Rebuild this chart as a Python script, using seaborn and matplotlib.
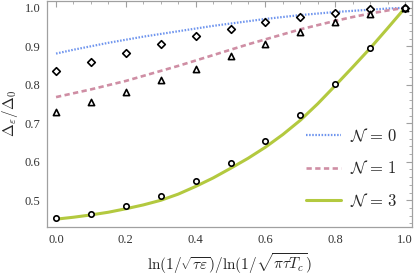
import numpy as np
import pandas as pd
import matplotlib
matplotlib.use("Agg")
import matplotlib.pyplot as plt
import seaborn as sns
from matplotlib.ticker import MultipleLocator

# ---- data ----
x_line = [0.0, 0.05, 0.1, 0.15, 0.2, 0.25, 0.3, 0.35, 0.4, 0.45, 0.5,
          0.55, 0.6, 0.65, 0.7, 0.75, 0.8, 0.85, 0.9, 0.95, 1.0]
line_n0 = [0.881, 0.891, 0.900, 0.909, 0.917, 0.925, 0.932, 0.939, 0.946, 0.953, 0.959,
           0.965, 0.971, 0.976, 0.981, 0.985, 0.989, 0.992, 0.995, 0.998, 1.0]
line_n1 = [0.768, 0.778, 0.788, 0.799, 0.810, 0.823, 0.836, 0.849, 0.863, 0.877, 0.891,
           0.905, 0.918, 0.931, 0.944, 0.955, 0.966, 0.976, 0.985, 0.993, 1.0]
line_n3 = [0.451, 0.456, 0.462, 0.469, 0.478, 0.488, 0.500, 0.516, 0.536, 0.558, 0.583,
           0.609, 0.638, 0.671, 0.708, 0.751, 0.798, 0.846, 0.895, 0.947, 1.0]

x_pts = [0.0, 0.1, 0.2, 0.3, 0.4, 0.5, 0.6, 0.7, 0.8, 0.9, 1.0]
pts_diamond = [0.835, 0.859, 0.883, 0.906, 0.926, 0.944, 0.962, 0.976, 0.987, 0.996, 1.0]
pts_triangle = [0.729, 0.755, 0.780, 0.812, 0.842, 0.875, 0.907, 0.937, 0.963, 0.985, 1.0]
pts_circle = [0.454, 0.465, 0.484, 0.512, 0.549, 0.596, 0.654, 0.721, 0.801, 0.896, 1.0]

labels = [r"$\mathcal{N}\,=\,0$", r"$\mathcal{N}\,=\,1$", r"$\mathcal{N}\,=\,3$"]
xticks = [0.0, 0.2, 0.4, 0.6, 0.8, 1.0]
yticks = [0.5, 0.6, 0.7, 0.8, 0.9, 1.0]

sns.set_theme(style="white")
plt.rcParams["font.family"] = ["Liberation Serif", "DejaVu Serif"]
plt.rcParams["mathtext.fontset"] = "cm"

fig = plt.figure(figsize=(4.15, 2.77), dpi=100)
ax = fig.add_axes([0.114, 0.181, 0.879, 0.816])

n = len(x_line)
df_lines = pd.DataFrame({
    "x": x_line * 3,
    "y": line_n0 + line_n1 + line_n3,
    "series": [labels[0]] * n + [labels[1]] * n + [labels[2]] * n,
})
colors = ["#6f95ee", "#cf8ea4", "#b3c93f"]
styles = [(0, (0.7, 0.7)), (0, (2.0, 1.3)), "-"]
widths = [1.6, 1.9, 2.2]
for lab, c, ls, lw in zip(labels, colors, styles, widths):
    sub = df_lines[df_lines["series"] == lab]
    sns.lineplot(data=sub, x="x", y="y", ax=ax, color=c, linestyle=ls,
                 linewidth=lw, label=lab, sort=True)

df_pts = pd.DataFrame({"x": x_pts, "d": pts_diamond, "t": pts_triangle, "c": pts_circle})
sns.scatterplot(data=df_pts, x="x", y="d", ax=ax, marker="D", s=15,
                facecolor="white", edgecolor="black", linewidth=1.2, zorder=5, legend=False)
sns.scatterplot(data=df_pts, x="x", y="t", ax=ax, marker="^", s=20,
                facecolor="white", edgecolor="black", linewidth=1.2, zorder=5, legend=False)
sns.scatterplot(data=df_pts, x="x", y="c", ax=ax, marker="o", s=15,
                facecolor="white", edgecolor="black", linewidth=1.2, zorder=5, legend=False)

ax.set_xlim(-0.025, 1.02)
ax.set_ylim(0.431, 1.018)
ax.set_xticks(xticks)
ax.set_yticks(yticks)
ax.xaxis.set_minor_locator(MultipleLocator(0.05))
ax.yaxis.set_minor_locator(MultipleLocator(0.02))
ax.set_xticklabels([f"{v:.1f}" for v in xticks])
ax.set_yticklabels([f"{v:.1f}" for v in yticks])
for s in ax.spines.values():
    s.set_color("#a0a0a0")
    s.set_linewidth(0.9)
ax.tick_params(which="both", direction="in", top=True, right=True,
               color="#a0a0a0", labelsize=9, labelcolor="#333333", pad=5)
ax.tick_params(which="major", length=4, width=0.8)
ax.tick_params(which="minor", length=2.2, width=0.6)

ax.set_xlabel(r"$\ln(1/\sqrt{\tau\varepsilon})/\ln(1/\sqrt{\pi\tau T_c})$", fontsize=11, labelpad=4)
ax.set_ylabel(r"$\Delta_\varepsilon/\Delta_0$", fontsize=11, labelpad=3)

leg = ax.legend(loc="lower right", bbox_to_anchor=(1.0, 0.01), frameon=False,
                fontsize=12, handlelength=2.1, labelspacing=0.85, handletextpad=0.5)

fig.savefig("out.png", dpi=100)
